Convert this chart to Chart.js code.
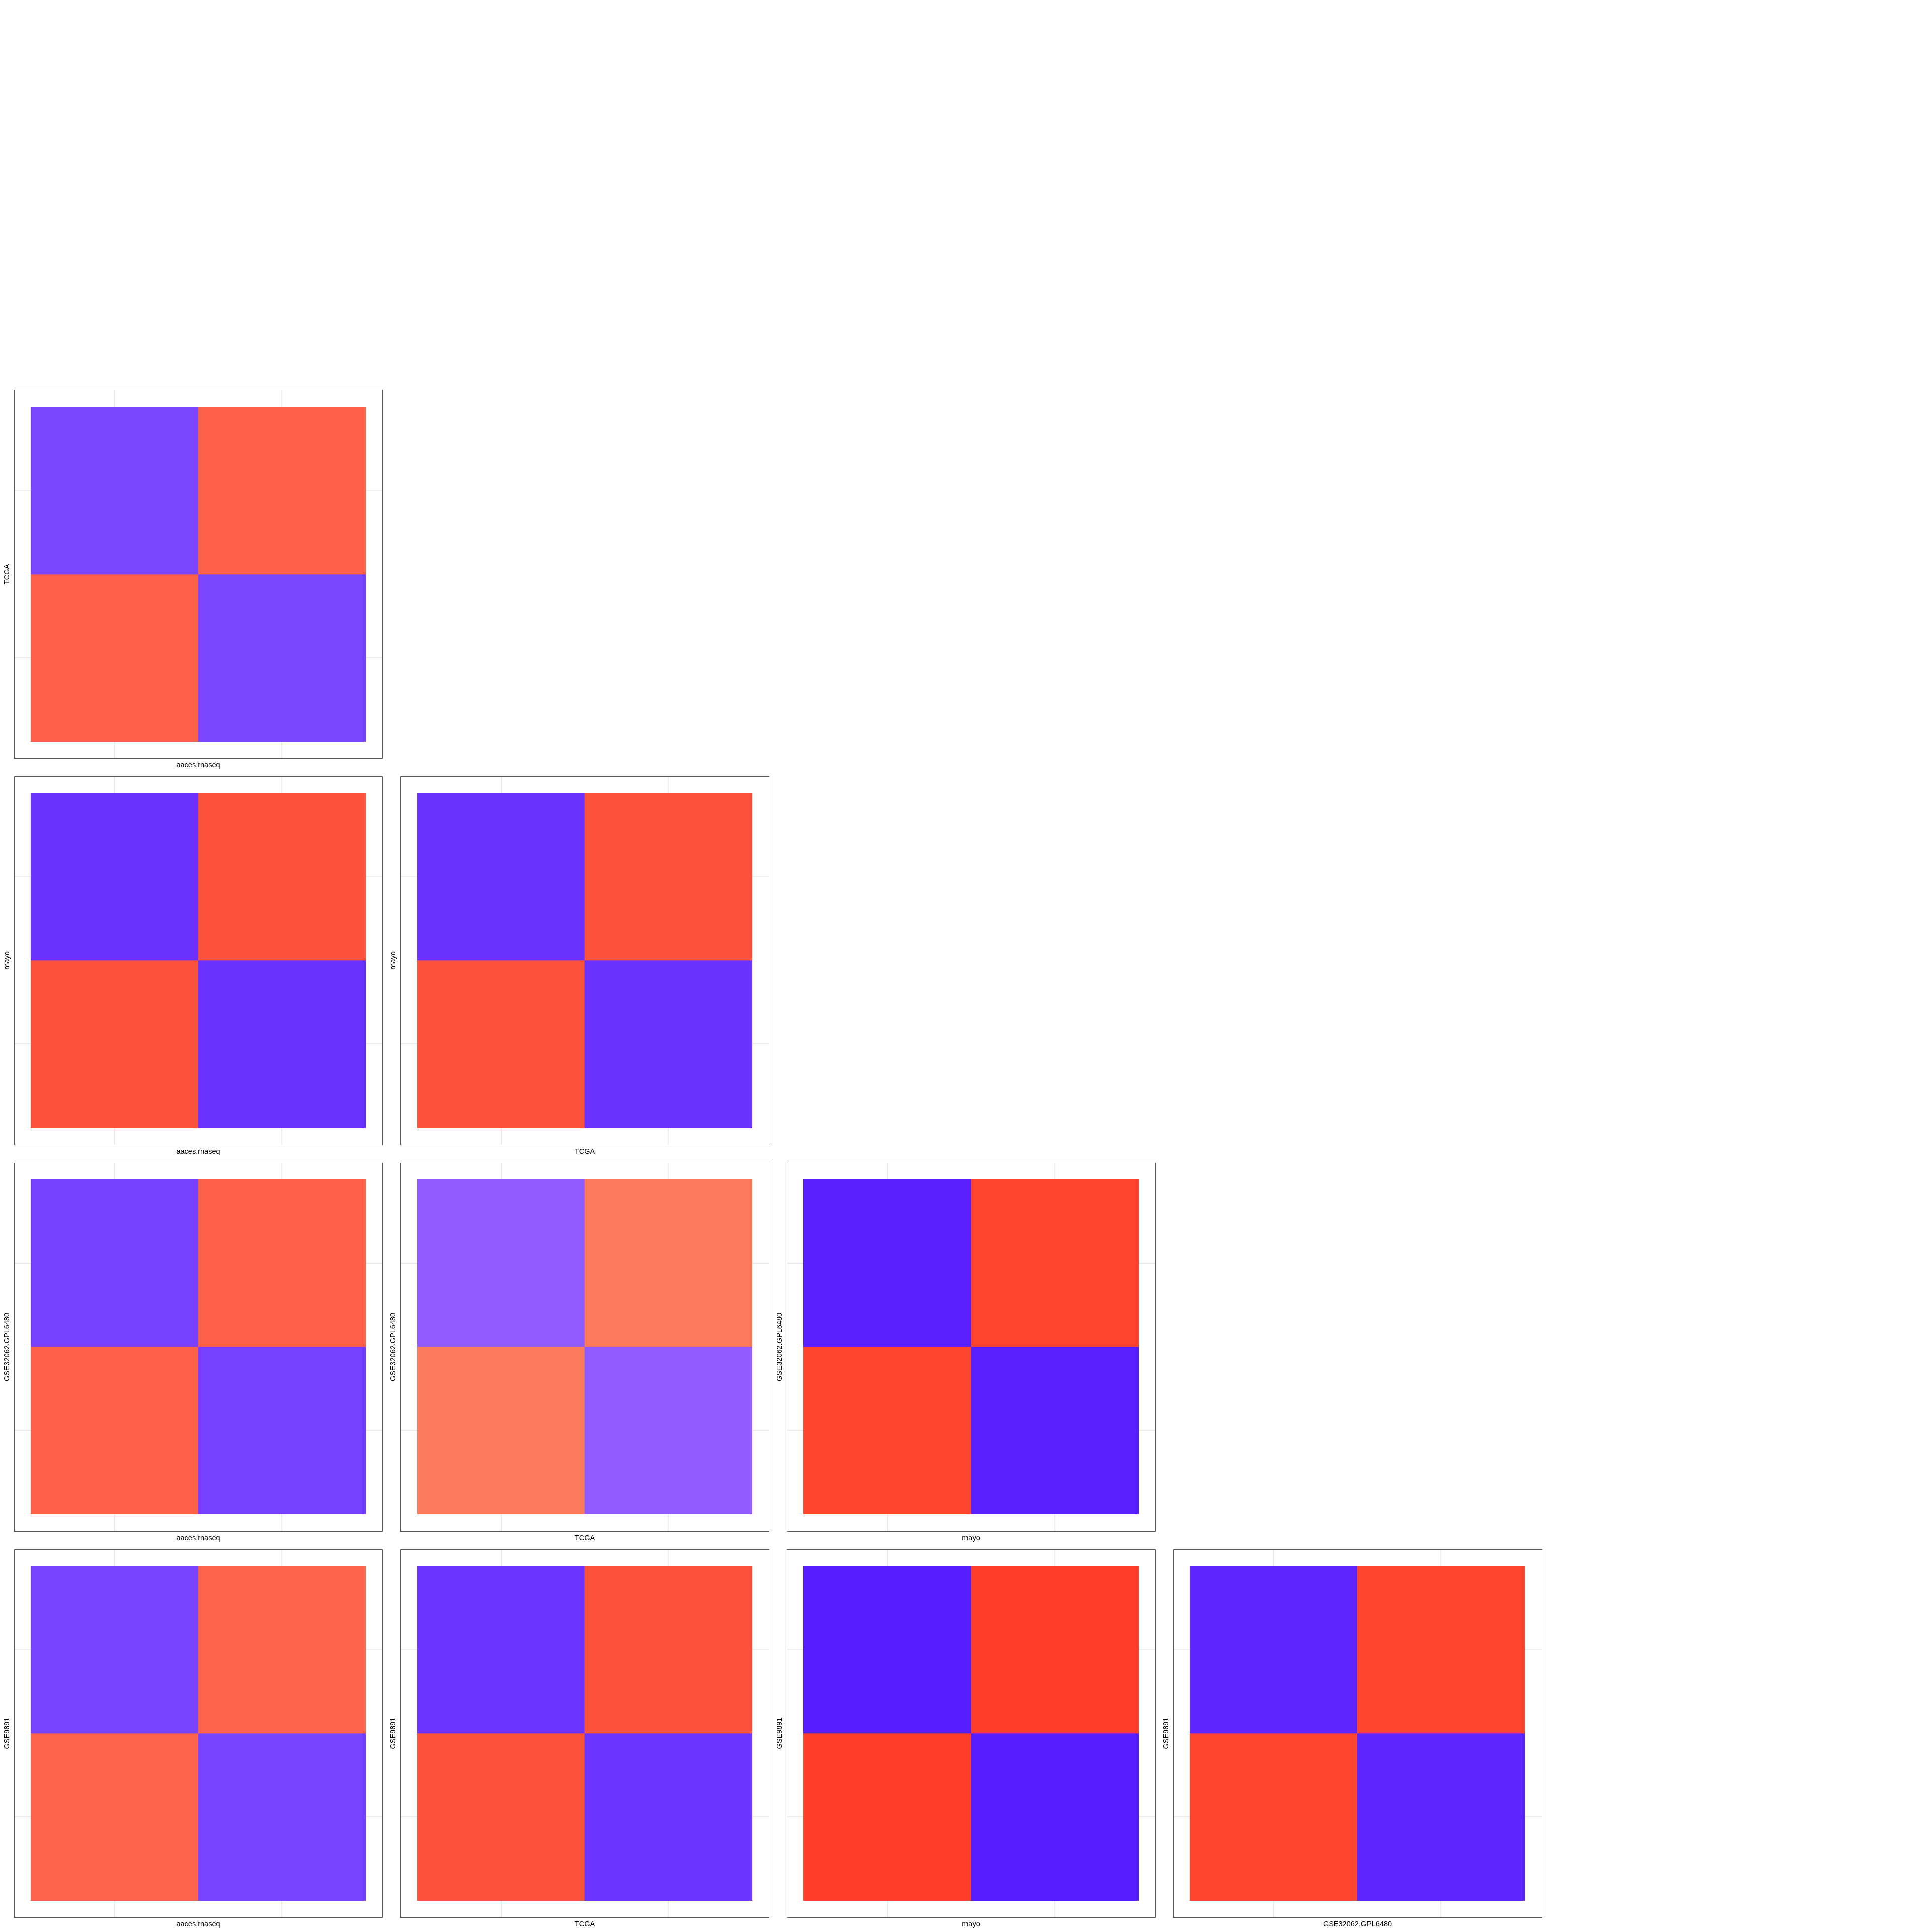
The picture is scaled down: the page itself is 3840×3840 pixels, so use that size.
<!DOCTYPE html>
<html>
<head>
<meta charset="utf-8">
<script src="https://cdn.jsdelivr.net/npm/chart.js@4.4.1/dist/chart.umd.min.js"></script>
<style>
  html, body { margin: 0; padding: 0; background: #ffffff; }
  #grid { position: relative; width: 3840px; height: 3840px; background: #ffffff; }
  #grid canvas { position: absolute; }
</style>
</head>
<body>
<div id="grid"></div>
<script>
// ---- data ----
const datasetNames = ['aaces.rnaseq', 'TCGA', 'mayo', 'GSE32062.GPL6480', 'GSE9891'];
const clusters = ['1', '2'];

// one entry per panel (lower triangle, row by row)
const panelX = ['aaces.rnaseq', 'aaces.rnaseq', 'TCGA', 'aaces.rnaseq', 'TCGA', 'mayo', 'aaces.rnaseq', 'TCGA', 'mayo', 'GSE32062.GPL6480'];
const panelY = ['TCGA', 'mayo', 'mayo', 'GSE32062.GPL6480', 'GSE32062.GPL6480', 'GSE32062.GPL6480', 'GSE9891', 'GSE9891', 'GSE9891', 'GSE9891'];
// value of the tiles where both clusters match (red) and where they differ (purple)
const sameClusterValues = [0.616, 0.675, 0.675, 0.627, 0.529, 0.737, 0.604, 0.675, 0.753, 0.729];
const diffClusterValues = [-0.733, -0.808, -0.808, -0.753, -0.647, -0.875, -0.737, -0.800, -0.890, -0.855];

// ---- colour scale ----
const colourStops = [
  [-1.0, [62, 0, 255]],
  [-0.5, [177, 128, 255]],
  [0.0, [255, 255, 255]],
  [0.5, [251, 128, 99]],
  [1.0, [258, 0, -13]]
];
function fillFor(v) {
  let i = 0;
  while (i < colourStops.length - 2 && v > colourStops[i + 1][0]) i++;
  const [v0, c0] = colourStops[i];
  const [v1, c1] = colourStops[i + 1];
  const f = (v - v0) / (v1 - v0);
  const c = c0.map((a, k) => Math.max(0, Math.min(255, Math.round(a + (c1[k] - a) * f))));
  return 'rgb(' + c.join(',') + ')';
}

// ---- layout ----
const CELL = 3840 / datasetNames.length;
const FONT = { family: '"Liberation Sans", Arial, Helvetica, sans-serif', size: 14.5, lineHeight: 1.2 };
const axisMin = 1 - 0.6;
const axisMax = clusters.length + 0.6;

const boxPlugin = {
  id: 'panelBox',
  afterDatasetsDraw(chart) {
    const a = chart.chartArea, ctx = chart.ctx;
    const l = Math.round(a.left), t = Math.round(a.top);
    const r = Math.round(a.right), b = Math.round(a.bottom);
    ctx.save();
    ctx.fillStyle = '#5c5c5c';
    ctx.fillRect(l, t, r - l + 1, 1);
    ctx.fillRect(l, b, r - l + 1, 1);
    ctx.fillRect(l, t, 1, b - t + 1);
    ctx.fillRect(r, t, 1, b - t + 1);
    ctx.restore();
  }
};

const grid = document.getElementById('grid');

panelX.forEach((xName, k) => {
  const yName = panelY[k];
  const col = datasetNames.indexOf(xName);
  const row = datasetNames.indexOf(yName);

  const canvas = document.createElement('canvas');
  canvas.width = CELL;
  canvas.height = CELL;
  canvas.style.width = CELL + 'px';
  canvas.style.height = CELL + 'px';
  canvas.style.left = (col * CELL) + 'px';
  canvas.style.top = (row * CELL) + 'px';
  grid.appendChild(canvas);

  const cells = [];
  clusters.forEach((cy, yi) => {
    clusters.forEach((cx, xi) => {
      cells.push({
        x: xi + 1,
        y: [yi + 0.5, yi + 1.5],
        v: xi === yi ? sameClusterValues[k] : diffClusterValues[k]
      });
    });
  });

  const axisCommon = (titleText, isX) => ({
    type: 'linear',
    min: axisMin,
    max: axisMax,
    offset: false,
    afterBuildTicks: s => { s.ticks = clusters.map((c, i) => ({ value: i + 1 })); },
    afterFit: s => { if (isX) s.height = 29; else s.width = 28; },
    ticks: { display: false },
    grid: { color: '#ebebeb', lineWidth: 2, offset: false, drawTicks: false },
    border: { display: false },
    title: {
      display: true,
      text: titleText,
      color: '#000000',
      font: FONT,
      padding: isX ? { top: 0, bottom: 6 } : { top: 5, bottom: 0 }
    }
  });

  new Chart(canvas, {
    type: 'bar',
    data: {
      datasets: [{
        data: cells.map(c => ({ x: c.x, y: c.y })),
        backgroundColor: cells.map(c => fillFor(c.v)),
        borderWidth: 0,
        barPercentage: 1,
        categoryPercentage: 1
      }]
    },
    options: {
      responsive: false,
      animation: false,
      devicePixelRatio: 1,
      layout: { padding: { top: 7, right: 8, bottom: 0, left: 0 } },
      plugins: { legend: { display: false }, tooltip: { enabled: false } },
      scales: {
        x: axisCommon(xName, true),
        y: axisCommon(yName, false)
      }
    },
    plugins: [boxPlugin]
  });
});
</script>
</body>
</html>
